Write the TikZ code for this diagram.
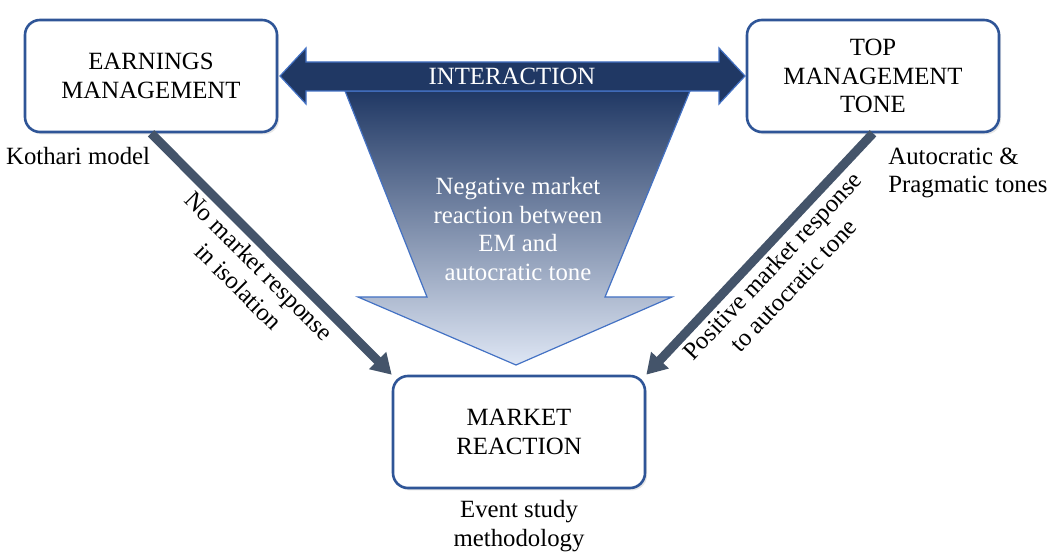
\documentclass[tikz,border=0pt]{standalone}
\usepackage{fontspec}
\setmainfont{Liberation Serif}
\usetikzlibrary{positioning,arrows.meta,calc,shadows}
\definecolor{boxblue}{HTML}{2F5597}
\definecolor{navy}{HTML}{203864}
\definecolor{paleblue}{HTML}{DEE6F4}
\definecolor{edgeblue}{HTML}{4472C4}
\definecolor{slate}{HTML}{44546A}

\begin{document}
\begin{tikzpicture}[
    x=0.5pt, y=-0.5pt,
    font=\fontsize{12.4}{14.3}\selectfont,
    block/.style={draw=boxblue, line width=1.3pt, fill=white, rounded corners=7.5pt, align=center, minimum width=126pt, minimum height=56pt, drop shadow={shadow xshift=1pt, shadow yshift=-1.2pt, opacity=0.2}},
    note/.style={align=center, inner sep=1pt},
    arrow/.style={draw=slate, line width=4.5pt, -{Triangle[length=10pt,width=11.5pt]}},
    lab/.style={sloped, align=center, inner sep=2pt},
    bigarrow/.style={draw=edgeblue, line width=0.6pt}
]
\useasboundingbox (0,0) rectangle (1053,555);

\path[bigarrow, top color=navy, bottom color=paleblue] (345,91) -- (690,91) -- (605,297) -- (672,297) -- (516,365) -- (358,297) -- (427,297) -- cycle;
\path[bigarrow, fill=navy] (280,76) -- (306,48) -- (306,62) -- (719,62) -- (719,48) -- (745,76) -- (719,104) -- (719,91) -- (306,91) -- (306,104) -- cycle;

\node[text=white] (inter) at (512,76) {INTERACTION};
\node[note, text=white] (neg) at (518,229) {Negative market\\reaction between\\EM and\\autocratic tone};

\node[block] (em) at (151,76) {EARNINGS\\MANAGEMENT};
\node[block] (tmt) at (873,76) {TOP\\MANAGEMENT\\TONE};
\node[block] (mr) at (519,432) {MARKET\\REACTION};

\node[note, anchor=north west, below right=6pt and -10pt of em.south west] (kothari) {Kothari model};
\node[note, align=left, below right=6pt and 6.5pt of tmt.south] (tones) {Autocratic \&\\Pragmatic tones};
\node[note, below=4.5pt of mr] (event) {Event study\\methodology};

\draw[arrow] (em.south) -- node[lab, below] {No market response\\in isolation} (mr.north west);
\draw[arrow] (tmt.south) -- node[lab, below] {Positive market response\\to autocratic tone} (mr.north east);
\end{tikzpicture}
\end{document}
